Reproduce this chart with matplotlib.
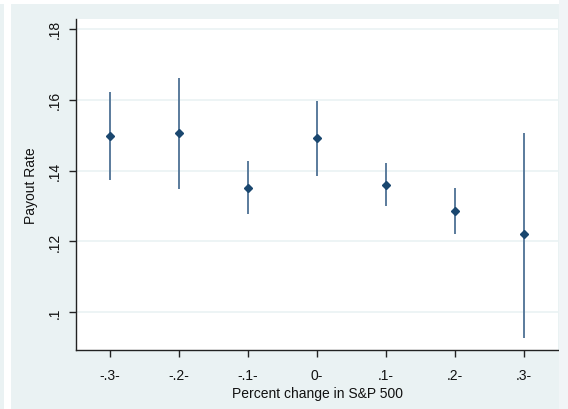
import matplotlib.pyplot as plt
from matplotlib.patches import Rectangle

# data
x_vals = [-0.3, -0.2, -0.1, 0.0, 0.1, 0.2, 0.3]
x_labels = ['-.3-', '-.2-', '-.1-', '0-', '.1-', '.2-', '.3-']
payout = [0.1498, 0.1505, 0.1352, 0.1491, 0.1359, 0.1286, 0.1221]
ci_low = [0.1372, 0.1349, 0.1276, 0.1384, 0.1300, 0.1221, 0.0926]
ci_high = [0.1623, 0.1660, 0.1428, 0.1597, 0.1421, 0.1351, 0.1507]
y_ticks = [0.10, 0.12, 0.14, 0.16, 0.18]
y_labels = ['.1', '.12', '.14', '.16', '.18']

plt.rcParams['font.family'] = ['Liberation Sans', 'DejaVu Sans']

bg = '#eaf2f3'
fig = plt.figure(figsize=(5.68, 4.10), dpi=100, facecolor=bg)
# white strips at the edges
fig.patches.append(Rectangle((4 / 568, 0), 7 / 568, 1, transform=fig.transFigure,
                             facecolor='white', edgecolor='none', zorder=0))
fig.patches.append(Rectangle((0, 1 - 5 / 410), 1, 5 / 410, transform=fig.transFigure,
                             facecolor='white', edgecolor='none', zorder=0))
fig.patches.append(Rectangle((559 / 568, 0), 9 / 568, 1, transform=fig.transFigure,
                             facecolor='#f1f5f7', edgecolor='none', zorder=0))

ax = fig.add_axes([76 / 568, 1 - 351 / 410, 482 / 568, 331 / 410])
ax.set_facecolor('white')

ax.vlines(x_vals, ci_low, ci_high, color='#5a7b9c', linewidth=1.4, zorder=3)
ax.plot(x_vals, payout, linestyle='none', marker='D', markersize=4.3,
        color='#1a476f', zorder=4)

ax.set_xlim(-0.349, 0.349)
ax.set_ylim(0.0893, 0.1828)
ax.set_xticks(x_vals)
ax.set_xticklabels(x_labels, fontsize=10)
ax.set_yticks(y_ticks)
ax.set_yticklabels(y_labels, fontsize=10, rotation=90, va='center')

ax.grid(axis='y', color=bg, linewidth=1.2)
ax.set_axisbelow(True)
for s in ['top', 'right']:
    ax.spines[s].set_visible(False)
for s in ['left', 'bottom']:
    ax.spines[s].set_color('#222222')
    ax.spines[s].set_linewidth(1.0)
ax.tick_params(axis='both', length=5, width=1, color='#222222', labelcolor='#111111')
ax.tick_params(axis='y', pad=5)
ax.tick_params(axis='x', pad=8)

ax.set_xlabel('Percent change in S&P 500', fontsize=10, color='#111111', labelpad=3)
ax.set_ylabel('Payout Rate', fontsize=10, color='#111111', labelpad=7)

fig.savefig('out.png', dpi=100, facecolor=bg)
